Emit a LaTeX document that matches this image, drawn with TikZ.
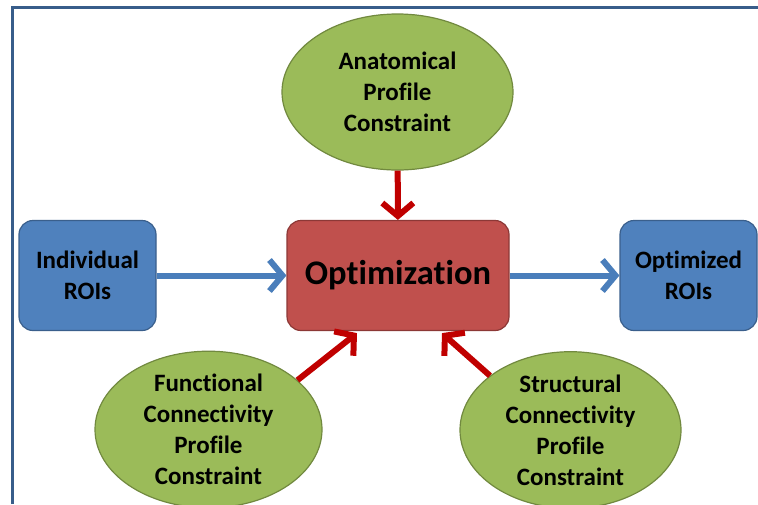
\documentclass[tikz,border=0pt]{standalone}
\usepackage{fontspec}
\setmainfont{Carlito}[Ligatures=CommonOff]
\usetikzlibrary{arrows.meta,shapes.geometric,positioning}

\definecolor{roiblue}{HTML}{4F81BD}
\definecolor{roiedge}{HTML}{3A5F8C}
\definecolor{optred}{HTML}{C0504D}
\definecolor{optedge}{HTML}{8C3836}
\definecolor{consgreen}{HTML}{9BBB59}
\definecolor{consedge}{HTML}{71893F}
\definecolor{pullred}{HTML}{C00000}
\definecolor{flowblue}{HTML}{4A7EBB}
\definecolor{framecol}{HTML}{385D8A}

\begin{document}
\begin{tikzpicture}[
  x=1pt, y=-1pt,
  lab/.style={font=\bfseries\fontsize{25}{31}\selectfont},
  roi/.style={rectangle, rounded corners=14pt, fill=roiblue, draw=roiedge,
    line width=1.2pt, minimum width=137pt, minimum height=110pt,
    align=center, lab},
  optbox/.style={rectangle, rounded corners=14pt, fill=optred, draw=optedge,
    line width=1.2pt, minimum width=222pt, minimum height=110pt,
    font=\bfseries\fontsize{34.5}{40}\selectfont},
  cons/.style={ellipse, fill=consgreen, draw=consedge, line width=1.2pt,
    inner sep=0pt, align=center, lab},
  flow/.style={line width=6pt, draw=flowblue,
    -{Straight Barb[length=13pt,width=31pt]}},
  pull/.style={line width=6pt, draw=pullred,
    -{Straight Barb[length=13pt,width=31pt]}}
]

% --- canvas and frame
\useasboundingbox (0,0) rectangle (758,504);
\draw[framecol, line width=3pt] (12,504) -- (12,7) -- (758,7);

% --- centre and side boxes
\def\yMid{275.5}
\node[optbox] (opt) at (398,\yMid) {Optimization};
\node[roi] (ind) at (87.5,\yMid) {Individual\\ROIs};
\node[roi] (res) at (688.5,\yMid) {Optimized\\ROIs};

% --- constraints
\node[cons, minimum width=231pt, minimum height=156pt] (ana) at (397.5,92)
  {Anatomical\\Profile\\Constraint};
\node[cons, minimum width=227pt, minimum height=145pt] (fcp) at (208.5,429.5)
  {Functional\\Connectivity\\Profile\\Constraint};
\node[cons, minimum width=221pt, minimum height=146pt] (scp) at (570.5,430)
  {Structural\\Connectivity\\Profile\\Constraint};

% --- flow of ROIs
\draw[flow] (ind) -- (opt);
\draw[flow] (opt) -- (res);

% --- constraints into optimization
\draw[pull] (ana) -- (opt);
\draw[pull] (fcp.29) -- ([xshift=-41pt,yshift=-2pt]opt.south);
\draw[pull] (scp.146) -- ([xshift=44pt,yshift=-2pt]opt.south);

\end{tikzpicture}
\end{document}
